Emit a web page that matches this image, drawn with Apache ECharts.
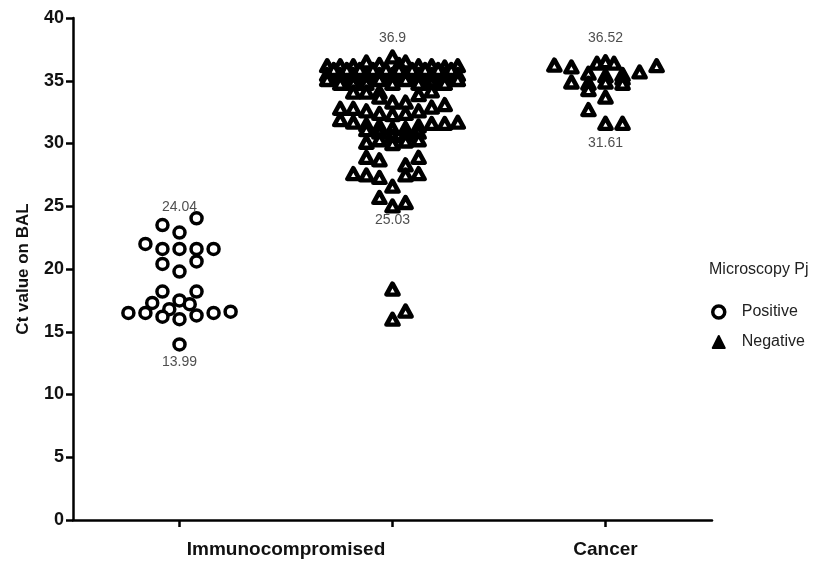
<!DOCTYPE html>
<html>
<head>
<meta charset="utf-8">
<script src="https://cdn.jsdelivr.net/npm/echarts@6/dist/echarts.min.js"></script>
<style>
  html, body { margin: 0; background: #fff; }
  #chart { width: 830px; height: 563px; }
</style>
</head>
<body>
<div id="chart"></div>
<script>
// group labels on the x axis, and where the columns sit
const groupNames = ['Immunocompromised', 'Cancer'];
const groupLabelAt = [1.5, 3];
const columnAt = [1, 2, 3];

// [jitter step, Ct value]
const posImmuno = [
  [1, 24.04], [-1, 23.5], [0, 22.9], [-2, 22.0],
  [-1, 21.6], [0, 21.6], [1, 21.6], [2, 21.6],
  [-1, 20.4], [1, 20.6], [0, 19.8],
  [-1, 18.2], [1, 18.2],
  [-1.6, 17.3], [0, 17.5], [0.6, 17.2], [-0.6, 16.8],
  [-3, 16.5], [-2, 16.5], [-1, 16.2], [0, 16.0], [1, 16.3], [2, 16.5], [3, 16.6],
  [0, 13.99]
];

const negImmuno = [
  [0, 36.9],
  [-2, 36.5], [1, 36.5],
  [-5, 36.2], [-4, 36.2], [-3, 36.2], [-1, 36.3], [0.5, 36.3], [2, 36.2], [3, 36.2], [4, 36.1], [5, 36.2],
  [-4.5, 35.9], [-3.5, 35.9], [-2.5, 35.9], [-1.5, 35.9], [-0.5, 35.9], [0.5, 35.9], [1.5, 35.9], [2.5, 35.9], [3.5, 35.9], [4.5, 35.9],
  [-5, 35.5], [-4, 35.5], [-3, 35.5], [-2, 35.5], [-1, 35.5], [0, 35.5], [1, 35.5], [2, 35.5], [3, 35.5], [4, 35.5], [5, 35.5],
  [-5, 35.1], [-4, 35.1], [-3, 35.1], [-2, 35.1], [-1, 35.1], [0, 35.1], [1, 35.1], [2, 35.1], [3, 35.1], [4, 35.1], [5, 35.1],
  [-4, 34.8], [-3, 34.8], [-2, 34.8], [0, 34.8], [2, 34.8], [3, 34.8], [4, 34.8],
  [-3, 34.1], [-2, 34.1], [-1, 34.1], [3, 34.2],
  [-1, 33.7], [2, 33.9],
  [0, 33.3], [1, 33.3],
  [-4, 32.8], [-3, 32.8], [-2, 32.6], [-1, 32.4], [0, 32.3], [1, 32.4], [2, 32.6], [3, 32.9], [4, 33.1],
  [-4, 31.9], [-3, 31.7], [-2, 31.5], [-1, 31.4], [0, 31.2], [1, 31.2], [2, 31.4], [3, 31.6], [4, 31.6], [5, 31.7],
  [-2, 31.1], [-1, 30.9], [0, 30.6], [1, 30.7], [2, 30.9],
  [-2, 30.1], [-1, 30.3], [0, 30.0], [1, 30.2], [2, 30.3],
  [-2, 28.9], [-1, 28.7], [2, 28.9],
  [1, 28.3],
  [-3, 27.6], [-2, 27.5], [-1, 27.3], [1, 27.5], [2, 27.6],
  [0, 26.6],
  [-1, 25.7],
  [0, 25.03], [1, 25.3],
  [0, 18.4], [1, 16.65], [0, 16.0]
];

const negCancer = [
  [-3, 36.25], [-2, 36.1], [-0.5, 36.4], [0, 36.52], [0.5, 36.4], [3, 36.2],
  [-1, 35.6], [0, 35.4], [1, 35.5], [2, 35.7], [1, 35.2],
  [-2, 34.9], [-1, 34.8], [0, 34.9], [1, 34.8],
  [-1, 34.3], [0, 33.7], [-1, 32.7],
  [0, 31.61], [1, 31.61]
];

// max / min annotations per column
const statText = ['24.04', '13.99', '36.9', '25.03', '36.52', '31.61'];
const statValue = [24.04, 13.99, 36.9, 25.03, 36.52, 31.61];
const statColumn = [1, 1, 2, 2, 3, 3];
const statShift = [-11, 18, -19, 14, -24, 20];

const yTicks = [0, 5, 10, 15, 20, 25, 30, 35, 40];

function place(points, col, step) {
  return points.map(p => [col + p[0] * step, p[1]]);
}

const chart = echarts.init(document.getElementById('chart'));
const font = '"Liberation Sans", Arial, sans-serif';

const triangleStyle = { color: '#fff', borderColor: '#000', borderWidth: 4.5, borderJoin: 'round', opacity: 1 };

chart.setOption({
  animation: false,
  textStyle: { fontFamily: font },
  grid: { left: 73, right: 118, top: 18, bottom: 43 },
  title: {
    text: 'Microscopy Pj',
    left: 704,
    top: 257,
    textStyle: { fontFamily: font, fontSize: 16, fontWeight: 'normal', color: '#222' }
  },
  legend: {
    data: [
      { name: 'Positive', itemStyle: { color: '#fff', borderColor: '#000', borderWidth: 3.5 } },
      { name: 'Negative', itemStyle: { color: '#000', borderColor: '#000', borderWidth: 2 } }
    ],
    orient: 'vertical',
    left: 706,
    top: 299,
    itemWidth: 12,
    itemHeight: 12,
    itemGap: 14,
    textStyle: { fontFamily: font, fontSize: 16, color: '#222', padding: [0, 0, 0, 12] }
  },
  xAxis: {
    type: 'value',
    min: 0.5,
    max: 3.5,
    splitLine: { show: false },
    axisLine: { lineStyle: { color: '#000', width: 2.5 } },
    axisTick: { show: true, customValues: columnAt, length: 7, lineStyle: { color: '#000', width: 2.5 } },
    axisLabel: {
      customValues: groupLabelAt,
      margin: 20,
      fontFamily: font,
      fontSize: 19,
      fontWeight: 'bold',
      color: '#111',
      formatter: v => groupNames[groupLabelAt.indexOf(v)] || ''
    }
  },
  yAxis: {
    type: 'value',
    min: 0,
    max: 40,
    interval: 5,
    name: 'Ct value on BAL',
    nameLocation: 'middle',
    nameGap: 41,
    nameTextStyle: { fontFamily: font, fontSize: 17, fontWeight: 'bold', color: '#111' },
    splitLine: { show: false },
    axisLine: { show: true, lineStyle: { color: '#000', width: 2.5 } },
    axisTick: { show: true, length: 7, lineStyle: { color: '#000', width: 2.5 } },
    axisLabel: {
      margin: 9,
      fontFamily: font,
      fontSize: 18,
      fontWeight: 'bold',
      color: '#111',
      formatter: v => (yTicks.includes(v) ? String(v) : '')
    }
  },
  series: [
    {
      name: 'Positive',
      type: 'scatter',
      symbol: 'circle',
      symbolSize: 11,
      itemStyle: { color: '#fff', borderColor: '#000', borderWidth: 3.5, opacity: 1 },
      data: place(posImmuno, columnAt[0], 0.08)
    },
    {
      name: 'Negative',
      type: 'scatter',
      symbol: 'triangle',
      symbolSize: [12, 11],
      itemStyle: triangleStyle,
      data: place(negImmuno, columnAt[1], 0.0613)
    },
    {
      name: 'Negative',
      type: 'scatter',
      symbol: 'triangle',
      symbolSize: [12, 11],
      itemStyle: triangleStyle,
      data: place(negCancer, columnAt[2], 0.08)
    },
    {
      name: 'stats',
      type: 'scatter',
      symbolSize: 0,
      silent: true,
      data: statValue.map((v, i) => ({
        value: [statColumn[i], v],
        label: {
          show: true,
          position: 'inside',
          offset: [0, statShift[i]],
          formatter: statText[i],
          fontFamily: font,
          fontSize: 14,
          color: '#222'
        }
      }))
    }
  ]
});
</script>
</body>
</html>
